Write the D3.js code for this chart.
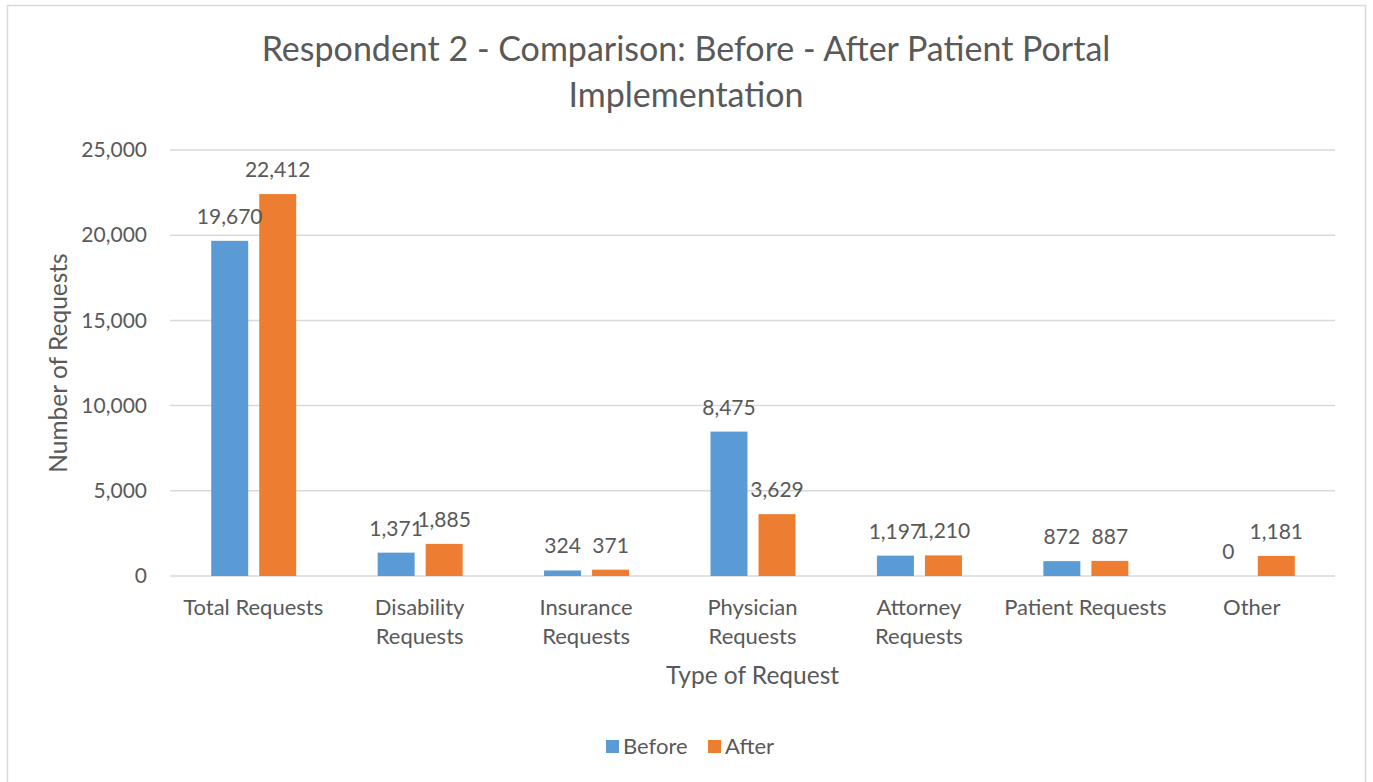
<!DOCTYPE html>
<html>
<head>
<meta charset="utf-8">
<script src="https://cdn.jsdelivr.net/npm/d3@7"></script>
<style>
  body { margin: 0; background: #fff; }
  text { font-family: Lato, "Open Sans", sans-serif; fill: #595959; }
</style>
</head>
<body>
<div id="chart"></div>
<script>
// chart data
var categories = ["Total Requests", "Disability Requests", "Insurance Requests", "Physician Requests",
                  "Attorney Requests", "Patient Requests", "Other"];
var categoryLines = [["Total Requests"], ["Disability", "Requests"], ["Insurance", "Requests"],
                     ["Physician", "Requests"], ["Attorney", "Requests"], ["Patient Requests"], ["Other"]];
var seriesNames = ["Before", "After"];
var before = [19670, 1371, 324, 8475, 1197, 872, 0];
var after = [22412, 1885, 371, 3629, 1210, 887, 1181];
var yTicks = [0, 5000, 10000, 15000, 20000, 25000];
var colors = ["#5B9BD5", "#ED7D31"];

var svgWidth = 1373, svgHeight = 782;
var margin = { top: 150, right: 38, bottom: 206, left: 170 };
var width = svgWidth - margin.left - margin.right;
var height = svgHeight - margin.top - margin.bottom;

var svg = d3.select("#chart").append("svg")
    .attr("width", svgWidth)
    .attr("height", svgHeight);

// outer frame
svg.append("rect")
    .attr("x", 7.5).attr("y", 5.5)
    .attr("width", 1358).attr("height", 800)
    .attr("fill", "none")
    .attr("stroke", "#D9D9D9")
    .attr("stroke-width", 1.5);

var chartGroup = svg.append("g")
    .attr("transform", `translate(${margin.left}, ${margin.top})`);

var x0 = d3.scaleBand().domain(categories).range([0, width]);
var x1 = d3.scaleBand().domain(seriesNames)
    .range([x0.bandwidth() / 2 - 42, x0.bandwidth() / 2 + 43])
    .paddingInner(0.23);
var y = d3.scaleLinear().domain([0, 25000]).range([height, 0]);

// gridlines
chartGroup.append("g")
    .selectAll("line")
    .data(yTicks)
    .enter()
    .append("line")
    .attr("x1", 0).attr("x2", width)
    .attr("y1", d => y(d)).attr("y2", d => y(d))
    .attr("stroke", "#D9D9D9")
    .attr("stroke-width", 1.5);

// y tick labels
var yAxis = d3.axisLeft(y).tickValues(yTicks).tickFormat(d3.format(",")).tickSize(0).tickPadding(23);
var yG = chartGroup.append("g").call(yAxis);
yG.select(".domain").remove();
yG.selectAll("text")
    .attr("font-size", "21px")
    .attr("font-family", "Lato, sans-serif")
    .attr("fill", "#595959");

var rows = categories.map((c, i) => ({ cat: c, values: [before[i], after[i]] }));

var groups = chartGroup.selectAll(".grp")
    .data(rows)
    .enter()
    .append("g")
    .attr("transform", d => `translate(${x0(d.cat)}, 0)`);

groups.selectAll("rect")
    .data(d => d.values.map((v, j) => ({ name: seriesNames[j], v: v, j: j })))
    .enter()
    .append("rect")
    .attr("x", d => x1(d.name))
    .attr("width", x1.bandwidth())
    .attr("y", d => y(d.v))
    .attr("height", d => height - y(d.v))
    .attr("fill", d => colors[d.j]);

groups.selectAll(".lbl")
    .data(d => d.values.map((v, j) => ({ name: seriesNames[j], v: v })))
    .enter()
    .append("text")
    .attr("x", d => x1(d.name) + x1.bandwidth() / 2)
    .attr("y", d => y(d.v) - 17)
    .attr("text-anchor", "middle")
    .attr("font-size", "21px")
    .attr("fill", "#404040")
    .text(d => d3.format(",")(d.v));

// category labels
var catG = chartGroup.append("g");
categoryLines.forEach(function(lines, i) {
    lines.forEach(function(line, k) {
        catG.append("text")
            .attr("x", x0(categories[i]) + x0.bandwidth() / 2)
            .attr("y", height + 39 + k * 29)
            .attr("text-anchor", "middle")
            .attr("font-size", "22px")
            .text(line);
    });
});

// axis titles
chartGroup.append("text")
    .attr("x", width / 2)
    .attr("y", height + 108)
    .attr("text-anchor", "middle")
    .attr("font-size", "24.5px")
    .text("Type of Request");

svg.append("text")
    .attr("transform", `translate(67, ${margin.top + height / 2}) rotate(-90)`)
    .attr("text-anchor", "middle")
    .attr("font-size", "24.5px")
    .text("Number of Requests");

// title
svg.append("text")
    .attr("x", 686).attr("y", 61)
    .attr("text-anchor", "middle")
    .attr("font-size", "34px")
    .text("Respondent 2 - Comparison: Before - After Patient Portal");
svg.append("text")
    .attr("x", 686).attr("y", 107)
    .attr("text-anchor", "middle")
    .attr("font-size", "34px")
    .text("Implementation");

// legend
var legend = svg.append("g").attr("transform", "translate(606, 740)");
var legendX = [0, 102];
seriesNames.forEach(function(name, i) {
    legend.append("rect")
        .attr("x", legendX[i]).attr("y", 0)
        .attr("width", 13).attr("height", 13)
        .attr("fill", colors[i]);
    legend.append("text")
        .attr("x", legendX[i] + 17).attr("y", 14)
        .attr("font-size", "22px")
        .text(name);
});
</script>
</body>
</html>
